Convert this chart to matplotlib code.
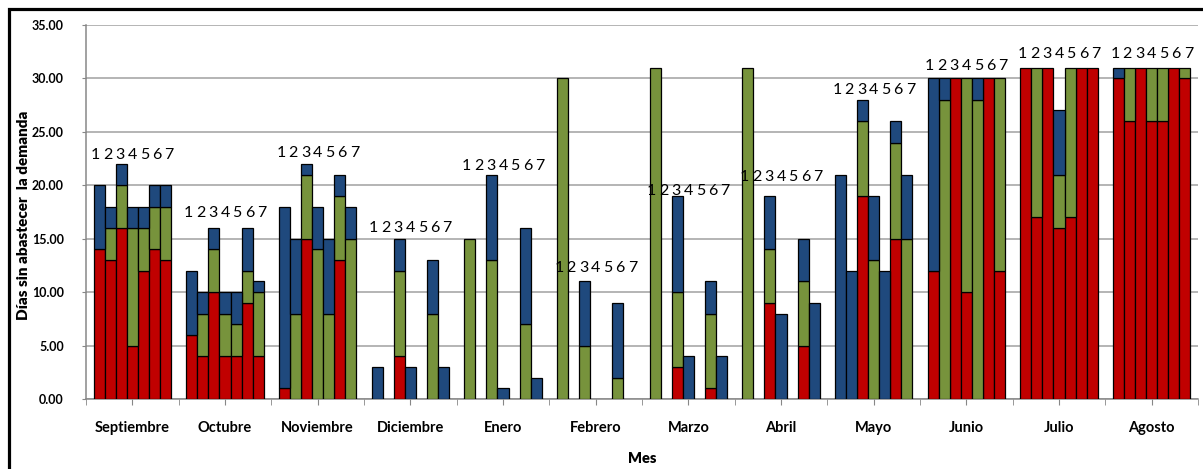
import numpy as np
import matplotlib.pyplot as plt
from matplotlib.patches import Rectangle

# ── Data ──────────────────────────────────────────────────────────────────────
months = ["Septiembre", "Octubre", "Noviembre", "Diciembre", "Enero", "Febrero",
          "Marzo", "Abril", "Mayo", "Junio", "Julio", "Agosto"]
bar_ids = ["1", "2", "3", "4", "5", "6", "7"]

# stacked segments per month, 7 bars each (bottom red, middle green, top blue)
red = [
    [14, 13, 16, 5, 12, 14, 13],
    [6, 4, 10, 4, 4, 9, 4],
    [1, 0, 15, 0, 0, 13, 0],
    [0, 0, 4, 0, 0, 0, 0],
    [0, 0, 0, 0, 0, 0, 0],
    [0, 0, 0, 0, 0, 0, 0],
    [0, 0, 3, 0, 0, 1, 0],
    [0, 0, 9, 0, 0, 5, 0],
    [0, 0, 19, 0, 0, 15, 0],
    [12, 0, 30, 10, 0, 30, 12],
    [31, 17, 31, 16, 17, 31, 31],
    [30, 26, 31, 26, 26, 31, 30],
]
green = [
    [0, 3, 4, 11, 4, 4, 5],
    [0, 4, 4, 4, 3, 3, 6],
    [0, 8, 6, 14, 8, 6, 15],
    [0, 0, 8, 0, 0, 8, 0],
    [15, 0, 13, 0, 0, 7, 0],
    [30, 0, 5, 0, 0, 2, 0],
    [31, 0, 7, 0, 0, 7, 0],
    [31, 0, 5, 0, 0, 6, 0],
    [0, 0, 7, 13, 0, 9, 15],
    [0, 28, 0, 20, 28, 0, 18],
    [0, 14, 0, 5, 14, 0, 0],
    [0, 5, 0, 5, 5, 0, 1],
]
blue = [
    [6, 2, 2, 2, 2, 2, 2],
    [6, 2, 2, 2, 3, 4, 1],
    [17, 7, 1, 4, 7, 2, 3],
    [3, 0, 3, 3, 0, 5, 3],
    [0, 0, 8, 1, 0, 9, 2],
    [0, 0, 6, 0, 0, 7, 0],
    [0, 0, 9, 4, 0, 3, 4],
    [0, 0, 5, 8, 0, 4, 9],
    [21, 12, 2, 6, 12, 2, 6],
    [18, 2, 0, 0, 2, 0, 0],
    [0, 0, 0, 6, 0, 0, 0],
    [1, 0, 0, 0, 0, 0, 0],
]
# height of the "1234567" label above each month
label_y = [22.8, 17.4, 23.0, 16.0, 21.8, 12.3, 19.5, 20.8, 28.9, 31.2, 32.3, 32.3]

C_RED, C_GREEN, C_BLUE = "#C00000", "#77933C", "#1F497D"
GRID = "#a0a0a0"
FONT = "Lato"

# ── Figure ────────────────────────────────────────────────────────────────────
fig = plt.figure(figsize=(12.03, 4.69), dpi=100)
ax = fig.add_axes([86 / 1203, 1 - 399 / 469, 1112 / 1203, 374 / 469])

w = 0.119
offsets = (np.arange(7) - 3) * w
for g in range(len(months)):
    r = np.array(red[g], float)
    gr = np.array(green[g], float)
    b = np.array(blue[g], float)
    x = g + offsets
    for vals, bottom, col in [(r, 0, C_RED), (gr, r, C_GREEN), (b, r + gr, C_BLUE)]:
        bottom = np.broadcast_to(bottom, vals.shape)
        m = vals > 0
        ax.bar(x[m], vals[m], w, bottom=bottom[m], color=col,
               edgecolor="black", linewidth=0.9, zorder=3)
    # bar numbers above each month
    for i, t in enumerate(bar_ids):
        ax.text(g + (i - 3) * 0.132, label_y[g], t, ha="center", va="center",
                fontsize=11.5, family=FONT, zorder=4)

ax.set_xlim(-0.5, len(months) - 0.5)
ax.set_ylim(0, 35)
ax.set_yticks(np.arange(0, 35.1, 5))
ax.set_yticklabels([f"{v:.2f}" for v in np.arange(0, 35.1, 5)],
                   fontsize=9, fontweight="bold", family=FONT)
ax.set_xticks(range(len(months)))
ax.set_xticklabels(months, fontsize=10.5, fontweight="bold", family=FONT)
ax.set_xticks(np.arange(-0.5, len(months), 1), minor=True)

ax.tick_params(axis="y", length=3, color="#878787", pad=13)
ax.tick_params(axis="x", which="both", length=4, color="#878787", pad=12)
ax.yaxis.grid(True, color=GRID, linewidth=1.1, zorder=0)
ax.set_axisbelow(True)
for s in ["top", "right"]:
    ax.spines[s].set_visible(False)
for s in ["left", "bottom"]:
    ax.spines[s].set_color("#878787")
    ax.spines[s].set_linewidth(1.1)

ax.set_ylabel("Días sin abastecer  la demanda", fontsize=11, fontweight="heavy", family=FONT)
ax.yaxis.set_label_coords(-0.05, 0.49)
ax.set_xlabel("Mes", fontsize=10.5, fontweight="heavy", family=FONT)
ax.xaxis.set_label_coords(0.5, -0.142)

# outer chart frame
fig.patches.append(Rectangle((8.5 / 1203, -0.1), 1.2, 1 - 9 / 469 + 0.1,
                             transform=fig.transFigure, fill=False,
                             edgecolor="black", linewidth=2.3))

fig.savefig("out.png", dpi=100)
